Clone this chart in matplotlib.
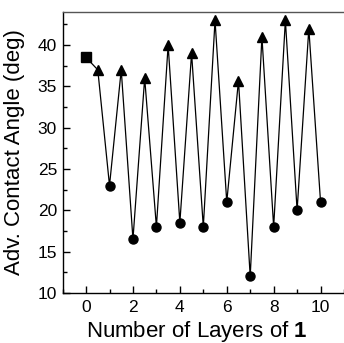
import matplotlib.pyplot as plt
from matplotlib.ticker import MultipleLocator

plt.rcParams["font.family"] = ["Liberation Sans", "DejaVu Sans"]
plt.rcParams["mathtext.fontset"] = "custom"
plt.rcParams["mathtext.rm"] = "Liberation Sans"
plt.rcParams["mathtext.bf"] = "Liberation Sans:bold"

# advancing contact angle after each half-layer step
bare_x = [0]
bare_y = [38.5]
half_x = [0.5, 1.5, 2.5, 3.5, 4.5, 5.5, 6.5, 7.5, 8.5, 9.5]
half_y = [37, 37, 36, 40, 39, 43, 35.7, 41, 43, 42]
full_x = [1, 2, 3, 4, 5, 6, 7, 8, 9, 10]
full_y = [23, 16.5, 18, 18.5, 18, 21, 12, 18, 20, 21]

# join everything in deposition order
all_pts = sorted(zip(bare_x + half_x + full_x, bare_y + half_y + full_y))
line_x = [p[0] for p in all_pts]
line_y = [p[1] for p in all_pts]

fig = plt.figure(figsize=(3.44, 3.43), dpi=100)
ax = fig.add_axes([0.182, 0.146, 0.818, 0.819])

ax.plot(line_x, line_y, color="black", lw=0.9, zorder=2)
ax.plot(bare_x, bare_y, "s", color="black", ms=6.5, zorder=3)
ax.plot(half_x, half_y, "^", color="black", ms=6.5, zorder=3)
ax.plot(full_x, full_y, "o", color="black", ms=6.5, zorder=3)

ax.set_xlim(-1, 11)
ax.set_ylim(10, 44)
ax.xaxis.set_major_locator(MultipleLocator(2))
ax.xaxis.set_minor_locator(MultipleLocator(1))
ax.yaxis.set_major_locator(MultipleLocator(5))
ax.yaxis.set_minor_locator(MultipleLocator(2.5))
ax.tick_params(which="both", direction="in", top=False, right=False,
               width=1, color="black")
ax.tick_params(which="major", length=5)
ax.tick_params(which="minor", length=3)
ax.tick_params(axis="both", labelsize=12.5)
ax.tick_params(axis="x", pad=5)
ax.tick_params(axis="y", pad=4)

for side in ["left", "bottom", "top"]:
    ax.spines[side].set_linewidth(1.0)
ax.spines["top"].set_color("#555555")
ax.spines["right"].set_visible(False)

ax.set_xlabel("Number of Layers of $\\mathbf{1}$", fontsize=16)
ax.set_ylabel("Adv. Contact Angle (deg)", fontsize=16)
ax.xaxis.set_label_coords(0.476, -0.092)
ax.yaxis.set_label_coords(-0.135, 0.5)

fig.savefig("out.png", dpi=100)
